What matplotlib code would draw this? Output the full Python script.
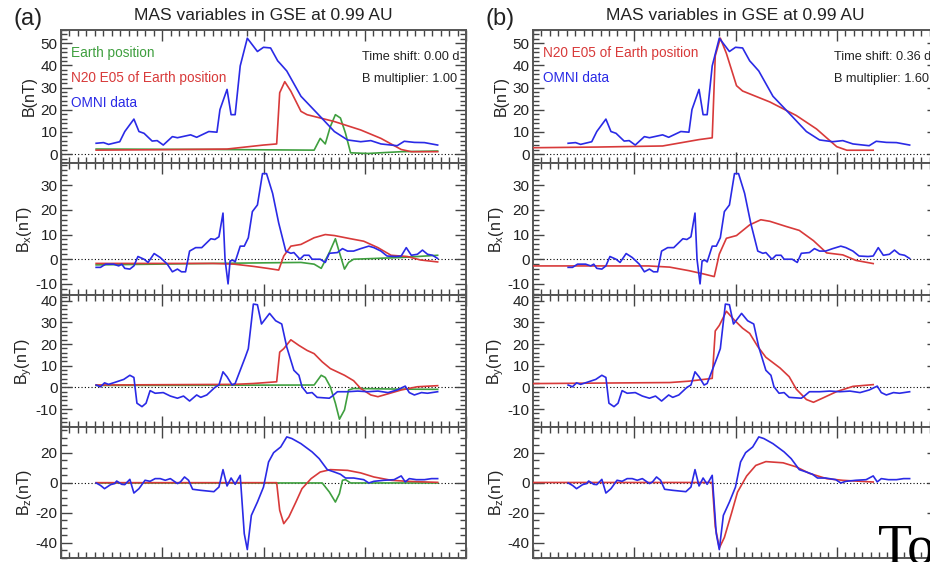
import matplotlib
matplotlib.use('Agg')
import matplotlib.pyplot as plt
from matplotlib.ticker import MultipleLocator
import numpy as np

plt.rcParams['font.family'] = ['Liberation Sans', 'DejaVu Sans']
plt.rcParams['axes.unicode_minus'] = False

TITLE = 'MAS variables in GSE at 0.99 AU'
TIME_SHIFT = [0.00, 0.36]
B_MULT = [1.00, 1.60]

BLUE = '#2a2ae6'
RED = '#d83a3a'
GREEN = '#3f9f3f'

# ---- OMNI data (days) ----
omni_b_t = [0.347, 0.42, 0.47, 0.58, 0.63, 0.72, 0.77, 0.82, 0.90, 0.95, 1.01, 1.10, 1.15,
            1.28, 1.34, 1.46, 1.54, 1.57, 1.64, 1.68, 1.72, 1.77, 1.84, 1.94, 2.00, 2.07,
            2.14, 2.17, 2.23, 2.37, 2.56, 2.70, 2.83, 2.96, 3.06, 3.16, 3.32, 3.39, 3.49,
            3.59, 3.72]
omni_b = [4.9, 5.2, 4.4, 5.6, 10.2, 15.8, 10.2, 9.4, 5.9, 6.1, 4.1, 7.9, 7.4,
          8.7, 7.6, 10.2, 9.9, 20.1, 29.2, 17.8, 17.8, 39.8, 52.3, 46.3, 48.2, 47.9,
          42.1, 40.6, 37.5, 26.1, 17.0, 10.2, 6.4, 5.6, 6.1, 4.6, 3.8, 5.8, 5.3,
          5.2, 4.1]

omni_bx_t = [0.347, 0.39, 0.44, 0.52, 0.57, 0.60, 0.63, 0.68, 0.72, 0.76, 0.82, 0.86, 0.92,
             0.98, 1.05, 1.10, 1.15, 1.19, 1.23, 1.27, 1.33, 1.39, 1.48, 1.52, 1.56, 1.60,
             1.62, 1.65, 1.67, 1.70, 1.72, 1.77, 1.81, 1.85, 1.89, 1.94, 1.99, 2.03, 2.09,
             2.15, 2.22, 2.27, 2.30, 2.36, 2.40, 2.45, 2.48, 2.56, 2.61, 2.65, 2.73, 2.78,
             2.83, 2.89, 2.96, 3.04, 3.09, 3.16, 3.22, 3.31, 3.36, 3.41, 3.46, 3.52, 3.57,
             3.62, 3.67, 3.72]
omni_bx = [-3.3, -3.3, -2.0, -2.0, -2.7, -2.0, -3.7, -4.0, -2.7, 1.1, 0.0, -1.3, 2.3,
           0.7, -2.0, -5.1, -4.0, -5.1, -5.1, 3.3, 4.7, 4.7, 8.3, 8.0, 9.1, 18.7,
           0.0, -10.0, -0.7, -0.4, -1.1, 5.3, 5.3, 8.7, 19.3, 22.0, 34.7, 34.7, 26.7,
           14.7, 3.3, 2.4, 2.7, 0.0, 1.6, 1.6, 0.0, 0.0, -1.3, 2.4, 2.7, 4.3,
           3.3, 3.3, 4.3, 5.3, 4.7, 3.3, 1.3, 1.1, 1.3, 4.7, 1.6, 2.0, 3.7,
           2.0, 1.6, 0.3]

omni_by_t = [0.347, 0.39, 0.43, 0.47, 0.53, 0.62, 0.68, 0.72, 0.75, 0.80, 0.84, 0.88, 0.93,
             1.01, 1.08, 1.15, 1.21, 1.27, 1.34, 1.38, 1.44, 1.52, 1.56, 1.60, 1.64, 1.69,
             1.72, 1.77, 1.82, 1.85, 1.90, 1.94, 1.98, 2.06, 2.12, 2.18, 2.23, 2.30, 2.35,
             2.38, 2.43, 2.48, 2.53, 2.65, 2.68, 2.73, 2.83, 2.93, 3.03, 3.13, 3.23, 3.32,
             3.40, 3.44, 3.49, 3.56, 3.62, 3.72]
omni_by = [1.1, 0.3, 2.1, 1.4, 2.3, 3.7, 5.6, 4.6, -7.3, -8.9, -7.3, -1.5, -2.7,
           -2.4, -4.0, -5.0, -4.0, -6.3, -3.5, -4.6, -3.5, 0.0, 1.1, 7.2, 4.9, 1.1,
           1.8, 7.9, 14.0, 17.9, 38.5, 38.2, 29.3, 34.2, 30.8, 29.3, 18.6, 7.9, 5.6,
           0.3, -2.7, -2.4, -4.6, -5.0, -4.0, -2.0, -2.0, -1.7, -2.0, -1.7, -2.4, -1.2,
           0.6, -2.4, -3.5, -2.4, -2.7, -2.0]

omni_bz_t = [0.347, 0.39, 0.43, 0.49, 0.53, 0.55, 0.60, 0.63, 0.68, 0.72, 0.77, 0.83, 0.88,
             0.93, 0.98, 1.03, 1.08, 1.15, 1.18, 1.22, 1.26, 1.30, 1.38, 1.51, 1.56, 1.60,
             1.64, 1.68, 1.72, 1.77, 1.81, 1.84, 1.88, 1.94, 2.00, 2.05, 2.10, 2.17, 2.23,
             2.28, 2.37, 2.48, 2.55, 2.63, 2.70, 2.76, 2.81, 2.89, 2.99, 3.04, 3.09, 3.19,
             3.29, 3.36, 3.40, 3.44, 3.51, 3.59, 3.66, 3.72]
omni_bz = [0.0, -1.6, -3.8, -1.1, -0.4, 1.3, -0.9, -1.1, 2.4, -6.7, -3.8, 1.8, 1.1,
           2.9, 2.9, 1.8, 2.9, -0.4, 0.7, 4.0, 1.8, -4.2, -4.9, -5.8, -2.7, 8.9,
           -2.0, 3.3, -0.9, 5.1, -33.8, -44.4, -21.6, -12.7, -2.7, 14.0, 20.2, 24.0, 30.7,
           29.6, 26.2, 20.7, 16.2, 8.9, 7.3, 5.8, 3.3, 3.3, 2.2, 0.0, 1.1, 1.8,
           2.2, 4.7, 0.7, 2.9, 2.2, 2.2, 2.9, 2.9]

# ---- MAS model at N20 E05 of Earth position (days, unshifted, multiplier 1) ----
n20_b_t = [0.347, 1.00, 1.64, 1.84, 2.00, 2.13, 2.16, 2.21, 2.27, 2.37, 2.43, 2.70, 2.96,
           3.16, 3.36, 3.46, 3.72]
n20_b = [1.8, 2.0, 2.3, 3.3, 4.1, 4.6, 27.7, 32.7, 28.4, 19.3, 17.8, 14.7, 10.9,
         7.1, 2.1, 1.1, 1.1]

n20_bx_t = [0.347, 1.50, 1.71, 1.90, 2.04, 2.15, 2.20, 2.27, 2.37, 2.50, 2.61, 2.70, 2.86,
            2.99, 3.13, 3.26, 3.42, 3.55, 3.72]
n20_bx = [-1.7, -1.7, -2.0, -2.9, -3.7, -4.4, 1.3, 5.3, 6.0, 8.7, 10.0, 9.6, 8.3,
          7.3, 4.7, 1.6, 1.1, -0.3, -1.1]

n20_by_t = [0.347, 1.71, 1.90, 2.13, 2.16, 2.20, 2.27, 2.35, 2.43, 2.50, 2.58, 2.66, 2.80,
            2.89, 2.96, 3.06, 3.13, 3.22, 3.36, 3.52, 3.72]
n20_by = [1.1, 1.4, 1.8, 2.6, 16.3, 17.9, 22.0, 19.4, 17.1, 15.6, 11.8, 8.7, 5.6,
          3.1, -0.5, -3.5, -4.3, -3.1, -1.2, 0.3, 0.8]

n20_bz_t = [0.347, 2.13, 2.16, 2.20, 2.25, 2.32, 2.38, 2.47, 2.56, 2.66, 2.83, 2.96, 3.09,
            3.26, 3.42, 3.72]
n20_bz = [0.2, 0.2, -18.2, -27.1, -22.7, -12.7, -3.8, 2.9, 7.3, 8.9, 8.4, 6.7, 4.0,
          1.8, 1.1, 0.4]

# ---- MAS model at Earth position ----
earth_b_t = [0.347, 1.50, 2.50, 2.56, 2.61, 2.66, 2.71, 2.76, 2.81, 2.86, 3.03, 3.36, 3.72]
earth_b = [2.3, 2.1, 1.8, 7.1, 4.6, 12.4, 17.8, 16.3, 9.4, 0.6, 0.3, 1.1, 1.4]

earth_bx_t = [0.347, 1.71, 2.37, 2.50, 2.57, 2.65, 2.71, 2.75, 2.80, 2.84, 2.89, 3.36, 3.72]
earth_bx = [-2.3, -1.6, -1.3, -2.0, -3.7, 2.7, 8.3, 2.7, -4.0, -1.3, 0.0, 0.7, 1.6]

earth_by_t = [0.347, 2.50, 2.57, 2.61, 2.66, 2.71, 2.75, 2.80, 2.84, 2.89, 3.36, 3.72]
earth_by = [0.9, 1.1, 5.6, 4.6, 0.3, -7.3, -14.7, -10.4, -1.2, -0.5, -0.8, -0.9]

earth_bz_t = [0.347, 2.58, 2.65, 2.71, 2.75, 2.78, 2.81, 2.86, 3.72]
earth_bz = [0.0, 0.0, -6.0, -12.7, -7.1, 1.8, 2.2, 0.0, 0.0]

YLABELS = ['B(nT)', r'B$_\mathregular{x}$(nT)', r'B$_\mathregular{y}$(nT)', r'B$_\mathregular{z}$(nT)']
YLIMS = [(-4, 56), (-14.5, 39), (-18.3, 42.7), (-50, 37.3)]
YMAJOR = [10, 10, 10, 20]
YMINOR = [2, 2, 2, 5]

omni = [(omni_b_t, omni_b), (omni_bx_t, omni_bx), (omni_by_t, omni_by), (omni_bz_t, omni_bz)]
n20 = [(n20_b_t, n20_b), (n20_bx_t, n20_bx), (n20_by_t, n20_by), (n20_bz_t, n20_bz)]
earth = [(earth_b_t, earth_b), (earth_bx_t, earth_bx), (earth_by_t, earth_by), (earth_bz_t, earth_bz)]

W, H = 930, 562
fig = plt.figure(figsize=(W / 100, H / 100), dpi=100)

row_px = [(30, 163), (163, 295), (295, 427), (427, 558)]
col_px = [61, 533]
ax_w = 405
label_right_px = [37, 34, 34, 34]
TXT = '#222222'


def draw_column(col, show_earth):
    shift = TIME_SHIFT[col]
    mult = B_MULT[col]
    axes = []
    for r in range(4):
        top, bot = row_px[r]
        ax = fig.add_axes([col_px[col] / W, 1 - bot / H, ax_w / W, (bot - top) / H])
        ax.set_xlim(0, 4)
        ax.set_ylim(*YLIMS[r])
        ax.axhline(0, color='k', ls=(0, (1, 2)), lw=0.8, zorder=1)
        if show_earth:
            t, v = earth[r]
            ax.plot(t, v, color=GREEN, lw=1.2, zorder=2)
        t, v = n20[r]
        ax.plot(np.array(t) - shift, np.array(v) * mult, color=RED, lw=1.2, zorder=3)
        t, v = omni[r]
        ax.plot(t, v, color=BLUE, lw=1.2, zorder=4)

        ax.xaxis.set_major_locator(MultipleLocator(1))
        ax.xaxis.set_minor_locator(MultipleLocator(1 / 12))
        ax.yaxis.set_major_locator(MultipleLocator(YMAJOR[r]))
        ax.yaxis.set_minor_locator(MultipleLocator(YMINOR[r]))
        ax.tick_params(which='both', direction='in', top=True, right=True,
                       labelbottom=False, color='#444444', width=1.0)
        ax.tick_params(which='major', length=8, labelsize=11, pad=2.5, labelcolor=TXT)
        ax.tick_params(which='minor', length=4)
        for s in ax.spines.values():
            s.set_color('#555555')
            s.set_linewidth(1.4)
        ax.set_ylabel(YLABELS[r], fontsize=11.5, color=TXT)
        ax.yaxis.set_label_coords(-(61 - label_right_px[r]) / ax_w, 0.5)
        axes.append(ax)
    return axes


axa = draw_column(0, True)
axb = draw_column(1, False)

for ax, col in [(axa[0], 0), (axb[0], 1)]:
    ax.set_title(TITLE, fontsize=12.5, pad=7, color=TXT)
    ax.text(0.743, 0.80, 'Time shift: %.2f d' % TIME_SHIFT[col], transform=ax.transAxes,
            fontsize=9.2, va='center', ha='left', color=TXT)
    ax.text(0.743, 0.635, 'B multiplier: %.2f' % B_MULT[col], transform=ax.transAxes,
            fontsize=9.2, va='center', ha='left', color=TXT)

ya = [0.827, 0.639, 0.451]
axa[0].text(0.025, ya[0], 'Earth position', color=GREEN, transform=axa[0].transAxes,
            fontsize=9.8, va='center')
axa[0].text(0.025, ya[1], 'N20 E05 of Earth position', color=RED, transform=axa[0].transAxes,
            fontsize=9.8, va='center')
axa[0].text(0.025, ya[2], 'OMNI data', color=BLUE, transform=axa[0].transAxes,
            fontsize=9.8, va='center')
axb[0].text(0.025, ya[0], 'N20 E05 of Earth position', color=RED, transform=axb[0].transAxes,
            fontsize=9.8, va='center')
axb[0].text(0.025, ya[1], 'OMNI data', color=BLUE, transform=axb[0].transAxes,
            fontsize=9.8, va='center')

fig.text(13 / W, 1 - 19 / H, '(a)', fontsize=17, va='center', ha='left', color=TXT)
fig.text(485 / W, 1 - 19 / H, '(b)', fontsize=17, va='center', ha='left', color=TXT)
fig.text(878 / W, 1 - 564 / H, 'To', fontsize=40, family='Liberation Serif',
         va='baseline', ha='left', color='black')

fig.savefig('out.png', dpi=100)
